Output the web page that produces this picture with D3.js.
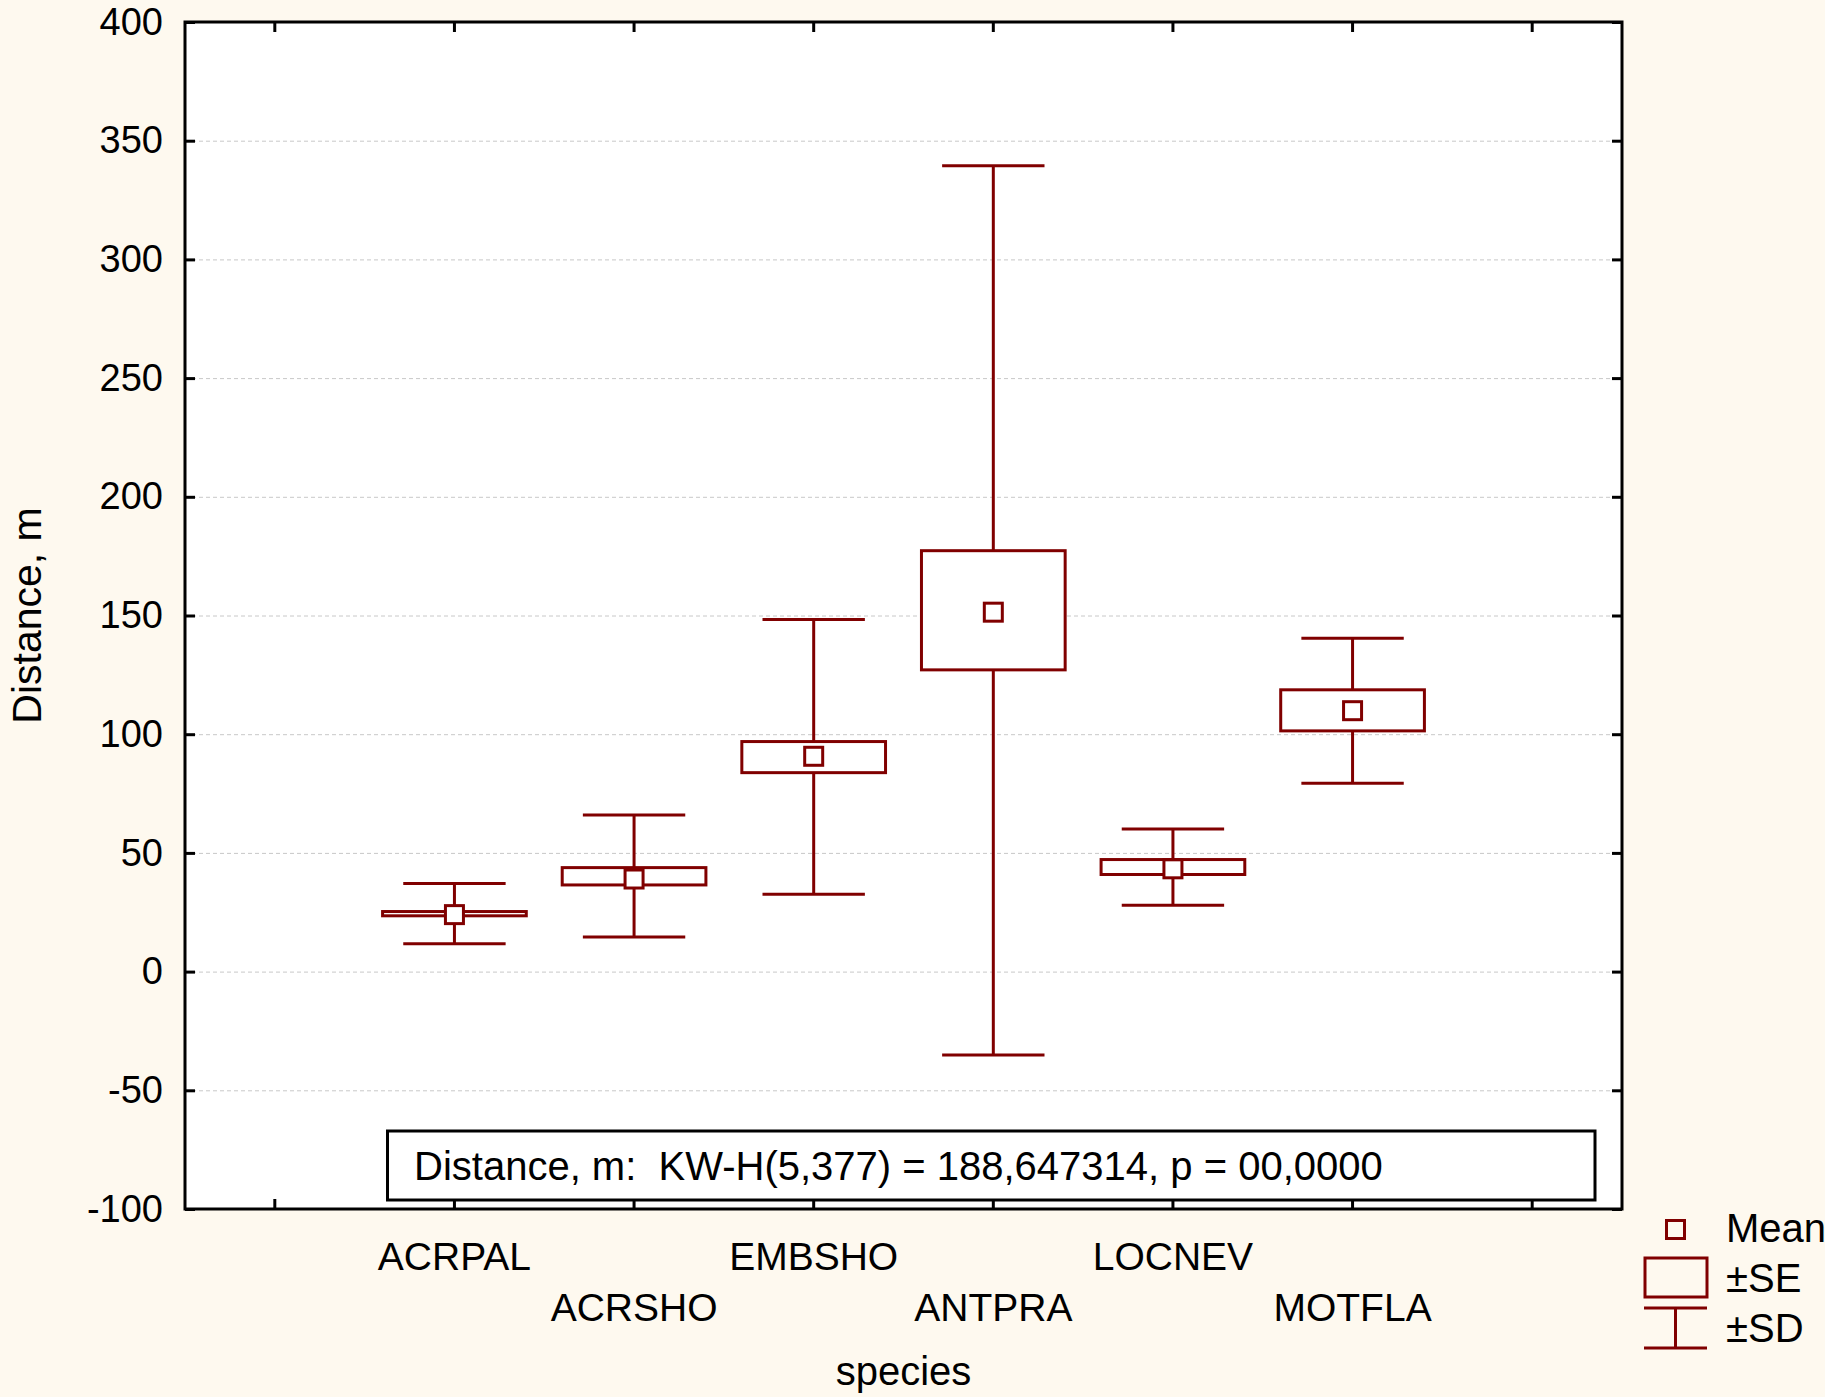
<!DOCTYPE html>
<html>
<head>
<meta charset="utf-8">
<script src="https://cdn.jsdelivr.net/npm/d3@7"></script>
<style>
  html, body { margin: 0; padding: 0; background: #fef9ef; }
  svg { display: block; }
  text { font-family: "Liberation Sans", Arial, sans-serif; fill: #000; }
</style>
</head>
<body>
<svg id="chart" width="1825" height="1397"></svg>
<script>
// Distance by species: mean, ±SE box, ±SD whiskers
const categories = ["ACRPAL", "ACRSHO", "EMBSHO", "ANTPRA", "LOCNEV", "MOTFLA"];
const meanValues = [24.0, 39.0, 90.7, 151.4, 43.3, 109.9];
const seLow  = [23.5, 36.5, 83.8, 127.1, 40.9, 101.4];
const seHigh = [25.3, 43.8, 96.9, 177.3, 47.2, 118.7];
const sdLow  = [11.7, 14.6, 32.6, -35.1, 27.9, 79.3];
const sdHigh = [37.1, 66.0, 148.3, 339.5, 60.1, 140.4];
const yTicks = [-100, -50, 0, 50, 100, 150, 200, 250, 300, 350, 400];
const statText = "Distance, m:  KW-H(5,377) = 188,647314, p = 00,0000";
const legendLabels = ["Mean", "\u00b1SE", "\u00b1SD"];

const color = "#800000";
const svg = d3.select("#chart");

const plot = { left: 185, right: 1622, top: 22, bottom: 1209 };
// one empty slot on each side of the categories
const slots = ["_lead", ...categories, "_trail"];
const x = d3.scaleBand().domain(slots).range([plot.left, plot.right]).padding(0);
const y = d3.scaleLinear().domain([-100, 400]).range([plot.bottom, plot.top]);
const cx = k => x(k) + x.bandwidth() / 2;

// plot area
svg.append("rect")
  .attr("x", plot.left).attr("y", plot.top)
  .attr("width", plot.right - plot.left).attr("height", plot.bottom - plot.top)
  .attr("fill", "#fff");

// dashed horizontal grid
svg.append("g")
  .attr("transform", `translate(${plot.left},0)`)
  .call(d3.axisLeft(y).tickValues(yTicks.filter(v => v > -100 && v < 400))
    .tickSize(-(plot.right - plot.left)).tickFormat(""))
  .call(g => g.select(".domain").remove())
  .call(g => g.selectAll("line").attr("stroke", "#c8c8c8").attr("stroke-width", 1)
    .attr("stroke-dasharray", "4,3"));

// axes with inward ticks
const tickStyle = g => {
  g.select(".domain").remove();
  g.selectAll("line").attr("stroke", "#000").attr("stroke-width", 3);
  g.selectAll("text").style("font-size", "38px").attr("fill", "#000");
};
svg.append("g").attr("transform", `translate(${plot.left},0)`)
  .call(d3.axisLeft(y).tickValues(yTicks).tickSize(-10).tickPadding(22).tickFormat(v => String(v)))
  .call(tickStyle);
svg.append("g").attr("transform", `translate(${plot.right},0)`)
  .call(d3.axisRight(y).tickValues(yTicks).tickSize(-10).tickFormat(""))
  .call(tickStyle);
svg.append("g").attr("transform", `translate(0,${plot.bottom})`)
  .call(d3.axisBottom(x).tickSize(-10).tickFormat(""))
  .call(tickStyle);
svg.append("g").attr("transform", `translate(0,${plot.top})`)
  .call(d3.axisTop(x).tickSize(-10).tickFormat(""))
  .call(tickStyle);

// frame
svg.append("rect")
  .attr("x", plot.left).attr("y", plot.top)
  .attr("width", plot.right - plot.left).attr("height", plot.bottom - plot.top)
  .attr("fill", "none").attr("stroke", "#000").attr("stroke-width", 3);

// category labels, staggered over two rows
svg.append("g").selectAll("text").data(categories).join("text")
  .attr("x", d => cx(d))
  .attr("y", (d, i) => i % 2 === 0 ? 1270 : 1321)
  .attr("text-anchor", "middle")
  .style("font-size", "39px")
  .text(d => d);

// axis titles
svg.append("text")
  .attr("x", (plot.left + plot.right) / 2).attr("y", 1385)
  .attr("text-anchor", "middle").style("font-size", "40px").text("species");
svg.append("text")
  .attr("transform", `translate(41,${(plot.top + plot.bottom) / 2}) rotate(-90)`)
  .attr("text-anchor", "middle").style("font-size", "41px").text("Distance, m");

// series marks
const boxW = x.bandwidth() * 0.8;
const capW = x.bandwidth() * 0.57;
const markSize = 18;
const series = svg.append("g");
categories.forEach((c, i) => {
  const g = series.append("g");
  const xc = cx(c);
  g.append("line").attr("x1", xc).attr("x2", xc)
    .attr("y1", y(sdHigh[i])).attr("y2", y(sdLow[i]))
    .attr("stroke", color).attr("stroke-width", 3);
  [sdHigh[i], sdLow[i]].forEach(v => {
    g.append("line").attr("x1", xc - capW / 2).attr("x2", xc + capW / 2)
      .attr("y1", y(v)).attr("y2", y(v))
      .attr("stroke", color).attr("stroke-width", 3);
  });
  g.append("rect")
    .attr("x", xc - boxW / 2).attr("width", boxW)
    .attr("y", y(seHigh[i])).attr("height", y(seLow[i]) - y(seHigh[i]))
    .attr("fill", "#fff").attr("stroke", color).attr("stroke-width", 3);
  g.append("rect")
    .attr("x", xc - markSize / 2).attr("width", markSize)
    .attr("y", y(meanValues[i]) - markSize / 2).attr("height", markSize)
    .attr("fill", "#fff").attr("stroke", color).attr("stroke-width", 3);
});

// statistic box
svg.append("rect")
  .attr("x", 387.5).attr("y", 1131).attr("width", 1207.5).attr("height", 69)
  .attr("fill", "#fff").attr("stroke", "#000").attr("stroke-width", 3);
svg.append("text")
  .attr("x", 414).attr("y", 1180)
  .style("font-size", "40px").style("white-space", "pre")
  .text(statText);

// legend
const lg = svg.append("g");
lg.append("rect").attr("x", 1666.5).attr("y", 1220.5).attr("width", 18).attr("height", 18)
  .attr("fill", "none").attr("stroke", color).attr("stroke-width", 3);
lg.append("rect").attr("x", 1645).attr("y", 1258).attr("width", 62).attr("height", 39)
  .attr("fill", "none").attr("stroke", color).attr("stroke-width", 3);
lg.append("line").attr("x1", 1644).attr("x2", 1707).attr("y1", 1308).attr("y2", 1308)
  .attr("stroke", color).attr("stroke-width", 3);
lg.append("line").attr("x1", 1644).attr("x2", 1707).attr("y1", 1348).attr("y2", 1348)
  .attr("stroke", color).attr("stroke-width", 3);
lg.append("line").attr("x1", 1675.5).attr("x2", 1675.5).attr("y1", 1308).attr("y2", 1348)
  .attr("stroke", color).attr("stroke-width", 3);
lg.selectAll("text").data(legendLabels).join("text")
  .attr("x", 1726)
  .attr("y", (d, i) => [1242, 1292, 1342][i])
  .style("font-size", "40px")
  .text(d => d);
</script>
</body>
</html>
